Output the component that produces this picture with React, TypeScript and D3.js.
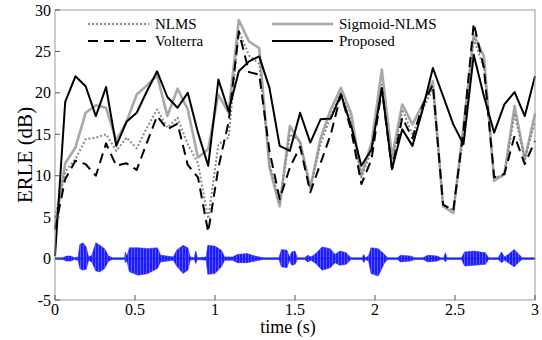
import React, { useEffect, useRef } from "react";
import * as d3 from "d3";

// ERLE per frame (48 frames over 3 s)
const proposed = [0.3, 18.9, 22.0, 20.8, 17.2, 20.7, 13.6, 16.5, 17.6, 20.2, 22.6, 19.5, 18.2, 20.0, 15.2, 11.2, 21.6, 17.8, 22.6, 23.8, 24.4, 20.6, 13.6, 13.0, 17.6, 14.0, 16.8, 16.9, 19.8, 16.0, 11.2, 13.2, 20.6, 10.8, 15.6, 13.6, 18.0, 23.0, 19.6, 16.2, 13.8, 24.6, 19.6, 15.2, 18.6, 20.1, 17.2, 22.0];
const sigmoidNlms = [3.8, 11.5, 13.4, 17.6, 18.5, 18.2, 14.2, 16.5, 19.8, 20.9, 22.1, 17.2, 20.5, 18.0, 12.2, 13.2, 19.8, 17.6, 28.8, 26.2, 25.4, 11.0, 6.3, 16.0, 14.0, 8.5, 14.5, 18.0, 20.6, 17.5, 10.0, 14.0, 22.8, 12.2, 18.6, 16.2, 18.6, 21.4, 6.3, 5.5, 16.0, 27.0, 24.4, 9.4, 10.2, 18.4, 12.0, 17.5];
const nlms = [5.0, 10.5, 12.0, 14.4, 14.6, 15.0, 13.0, 14.6, 13.3, 15.8, 18.0, 15.8, 17.0, 13.8, 11.5, 4.8, 13.8, 14.6, 27.5, 24.5, 23.5, 11.5, 6.8, 15.0, 14.2, 8.6, 13.8, 17.2, 20.0, 16.5, 9.8, 13.0, 21.0, 11.5, 18.0, 15.0, 18.0, 20.5, 6.5, 5.8, 15.0, 26.5, 23.0, 9.8, 10.0, 17.5, 12.0, 16.5];
const volterra = [3.5, 9.6, 11.8, 11.4, 10.0, 13.9, 11.2, 11.5, 10.7, 14.0, 17.2, 15.6, 16.3, 11.3, 9.8, 3.2, 11.0, 16.5, 27.4, 22.5, 22.2, 13.0, 7.2, 11.0, 13.5, 8.0, 11.5, 15.0, 19.8, 15.5, 9.0, 12.0, 20.5, 10.8, 17.0, 14.5, 18.5, 21.0, 6.5, 5.8, 15.5, 28.4, 23.0, 9.8, 10.2, 14.8, 11.4, 14.2];
const frameStep = 3 / 47;

// speech envelope: [time, upper, lower]
const waveEnv = [
  [0, 0.1, 0.1], [0.05, 0.1, 0.1], [0.07, 0.3, 0.3], [0.1, 0.3, 0.3], [0.12, 0.1, 0.1],
  [0.145, 0.2, 0.2], [0.155, 1.7, 1.2], [0.175, 1.9, 1.4], [0.195, 1.4, 1.3], [0.21, 0.2, 0.2],
  [0.23, 0.4, 0.4], [0.255, 1.9, 1.5], [0.28, 1.6, 1.6], [0.31, 1.2, 1.2], [0.335, 0.3, 0.3],
  [0.36, 0.1, 0.1], [0.435, 0.1, 0.1], [0.44, 0.8, 0.5], [0.45, 0.3, 0.3], [0.465, 1.3, 1.6],
  [0.52, 1.3, 2.0], [0.58, 1.2, 1.8], [0.64, 1.3, 1.2], [0.66, 0.4, 0.4], [0.7, 0.3, 0.3],
  [0.74, 0.2, 0.2], [0.76, 1.0, 0.9], [0.8, 1.6, 1.8], [0.83, 1.3, 1.4], [0.845, 0.2, 0.2],
  [0.87, 0.1, 0.1], [0.88, 0.9, 0.6], [0.89, 0.1, 0.1], [0.945, 0.2, 0.2], [0.955, 1.6, 1.9],
  [1.0, 1.5, 1.8], [1.04, 1.0, 1.0], [1.06, 0.2, 0.2], [1.11, 0.2, 0.2], [1.14, 0.5, 0.5],
  [1.2, 0.6, 0.5], [1.25, 0.3, 0.3], [1.3, 0.1, 0.1], [1.4, 0.1, 0.1], [1.415, 1.1, 1.0],
  [1.45, 1.0, 1.1], [1.465, 0.2, 0.2], [1.48, 0.8, 0.8], [1.5, 0.9, 0.7], [1.515, 0.1, 0.1],
  [1.56, 0.1, 0.1], [1.58, 0.4, 0.4], [1.6, 0.2, 0.2], [1.63, 0.6, 0.6], [1.67, 1.4, 1.4],
  [1.72, 1.2, 1.1], [1.75, 0.5, 0.5], [1.78, 0.9, 0.8], [1.82, 0.7, 0.7], [1.85, 0.1, 0.1],
  [1.92, 0.1, 0.1], [1.93, 0.5, 0.5], [1.94, 0.1, 0.1], [1.96, 0.3, 0.3], [1.975, 1.3, 1.8],
  [2.02, 1.2, 2.1], [2.06, 0.5, 0.5], [2.08, 0.1, 0.1], [2.14, 0.1, 0.1], [2.16, 0.4, 0.4],
  [2.22, 0.3, 0.3], [2.25, 0.1, 0.1], [2.3, 0.1, 0.1], [2.33, 0.4, 0.4], [2.39, 0.3, 0.3],
  [2.41, 0.1, 0.1], [2.43, 0.1, 0.1], [2.44, 0.7, 0.4], [2.45, 0.1, 0.1], [2.54, 0.1, 0.1],
  [2.56, 0.8, 0.9], [2.62, 0.9, 0.8], [2.69, 0.7, 0.7], [2.71, 0.1, 0.1], [2.77, 0.1, 0.1],
  [2.79, 0.8, 0.5], [2.81, 0.2, 0.2], [2.84, 0.6, 0.6], [2.87, 1.1, 1.0], [2.9, 0.5, 0.4],
  [2.92, 0.1, 0.1], [3.0, 0.1, 0.1],
];

const xTicks = [0, 0.5, 1, 1.5, 2, 2.5, 3];
const yTicks = [-5, 0, 5, 10, 15, 20, 25, 30];

const W = 542;
const H = 340;
const margin = { left: 55, right: 7, top: 10, bottom: 40 };
const font = "'Liberation Serif', 'Times New Roman', serif";

const App = () => {
  const ref = useRef<SVGSVGElement>(null);

  useEffect(() => {
    const svg = d3.select(ref.current);
    svg.selectAll("*").remove();

    const x = d3.scaleLinear().domain([0, 3]).range([margin.left, W - margin.right]);
    const y = d3.scaleLinear().domain([-5, 30]).range([H - margin.bottom, margin.top]);

    // striped fill so the speech bursts look like a dense waveform
    const pat = svg
      .append("defs")
      .append("pattern")
      .attr("id", "wave-stripes")
      .attr("patternUnits", "userSpaceOnUse")
      .attr("width", 3)
      .attr("height", 10);
    pat.append("rect").attr("width", 3).attr("height", 10).attr("fill", "#1c1cff");
    pat.append("rect").attr("x", 2).attr("width", 1).attr("height", 10).attr("fill", "#5a5aff");

    const area = d3
      .area<any>()
      .x((d) => x(d[0]))
      .y0((d) => y(-d[2]))
      .y1((d) => y(d[1]));
    svg
      .append("path")
      .datum(waveEnv)
      .attr("d", area)
      .attr("fill", "url(#wave-stripes)")
      .attr("stroke", "#2a2aff")
      .attr("stroke-width", 0.6);
    svg
      .append("line")
      .attr("x1", x(0))
      .attr("x2", x(3))
      .attr("y1", y(0))
      .attr("y2", y(0))
      .attr("stroke", "#2020ff")
      .attr("stroke-width", 1);

    const line = d3
      .line<number>()
      .x((d, i) => x(i * frameStep))
      .y((d) => y(d));

    const series = [
      { name: "Sigmoid-NLMS", data: sigmoidNlms, stroke: "#a8a8a8", width: 2.6, dash: null },
      { name: "NLMS", data: nlms, stroke: "#8a8a8a", width: 2, dash: "2,2" },
      { name: "Volterra", data: volterra, stroke: "#000", width: 2, dash: "10,6" },
      { name: "Proposed", data: proposed, stroke: "#000", width: 2, dash: null },
    ];

    series.forEach((s) => {
      svg
        .append("path")
        .datum(s.data)
        .attr("d", line)
        .attr("fill", "none")
        .attr("stroke", s.stroke)
        .attr("stroke-width", s.width)
        .attr("stroke-linejoin", "round")
        .attr("stroke-dasharray", s.dash);
    });

    // frame
    svg
      .append("rect")
      .attr("x", x(0))
      .attr("y", y(30))
      .attr("width", x(3) - x(0))
      .attr("height", y(-5) - y(30))
      .attr("fill", "none")
      .attr("stroke", "#999")
      .attr("stroke-width", 1);

    // y ticks
    const yg = svg.append("g");
    yTicks.forEach((t) => {
      yg.append("line")
        .attr("x1", x(0))
        .attr("x2", x(0) + 5)
        .attr("y1", y(t))
        .attr("y2", y(t))
        .attr("stroke", "#555");
      yg.append("text")
        .attr("x", x(0) - 4)
        .attr("y", y(t))
        .attr("dy", "0.35em")
        .attr("text-anchor", "end")
        .attr("font-family", font)
        .attr("font-size", 16)
        .text(t);
    });

    // x ticks
    const xg = svg.append("g");
    xTicks.forEach((t) => {
      xg.append("line")
        .attr("x1", x(t))
        .attr("x2", x(t))
        .attr("y1", y(-5))
        .attr("y2", y(-5) - 5)
        .attr("stroke", "#555");
      xg.append("text")
        .attr("x", x(t))
        .attr("y", y(-5) + 15)
        .attr("text-anchor", "middle")
        .attr("font-family", font)
        .attr("font-size", 16)
        .text(t);
    });

    svg
      .append("text")
      .attr("transform", `translate(32, ${(y(30) + y(-5)) / 2}) rotate(-90)`)
      .attr("text-anchor", "middle")
      .attr("font-family", font)
      .attr("font-size", 21)
      .text("ERLE (dB)");

    svg
      .append("text")
      .attr("x", 288)
      .attr("y", 333)
      .attr("text-anchor", "middle")
      .attr("font-family", font)
      .attr("font-size", 18)
      .text("time (s)");

    // legend
    const legend = [
      { s: series[1], lx: 88, ly: 24 },
      { s: series[2], lx: 88, ly: 41 },
      { s: series[0], lx: 272, ly: 24 },
      { s: series[3], lx: 272, ly: 41 },
    ];
    legend.forEach(({ s, lx, ly }) => {
      svg
        .append("line")
        .attr("x1", lx)
        .attr("x2", lx + 61)
        .attr("y1", ly)
        .attr("y2", ly)
        .attr("stroke", s.stroke)
        .attr("stroke-width", s.width)
        .attr("stroke-dasharray", s.dash);
      svg
        .append("text")
        .attr("x", lx + 67)
        .attr("y", ly)
        .attr("dy", "0.35em")
        .attr("font-family", font)
        .attr("font-size", 15)
        .text(s.name);
    });
  }, []);

  return (
    <svg
      ref={ref}
      width={W}
      height={H}
      style={{ position: "absolute", left: 0, top: 0, background: "#fff" }}
    ></svg>
  );
};

export default App;
